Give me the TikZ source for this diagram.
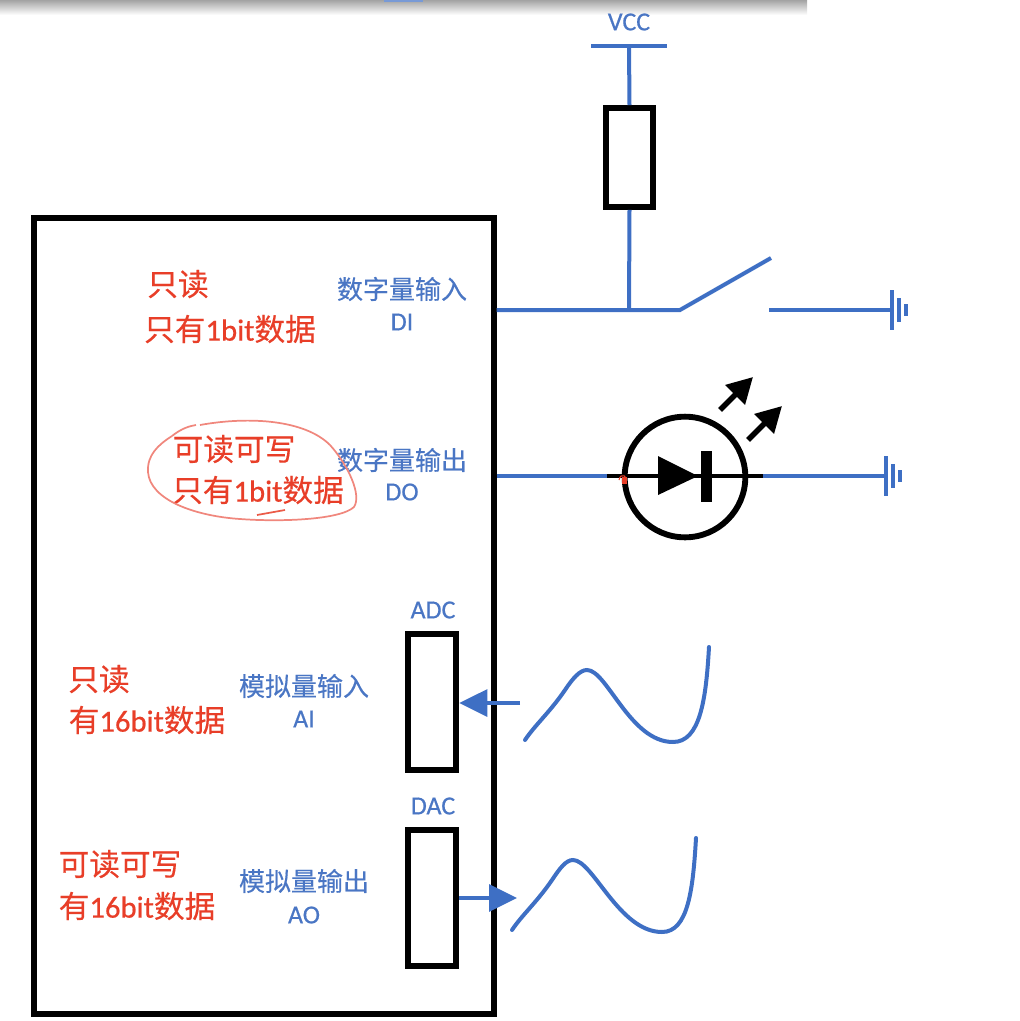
\documentclass[tikz,border=0pt]{standalone}
\usepackage{fontspec}
\setmainfont{Carlito}[FakeBold=0.5]
\newfontfamily\cjk{Noto Sans CJK SC}[FakeBold=0.4]
\usetikzlibrary{arrows.meta}

\definecolor{mblu}{RGB}{62, 111, 196}
\definecolor{mtxt}{RGB}{74, 118, 196}
\definecolor{mred}{RGB}{232, 62, 40}
\definecolor{mpin}{RGB}{240, 135, 125}

\newcommand{\zh}[1]{{\cjk #1}}

\tikzset{
	wire/.style={mblu, line width=3pt},
	blk/.style={draw=black, line width=4.4pt, inner sep=0pt},
	lbl/.style={mtxt, font=\fontsize{19.5}{22}\selectfont, inner sep=0pt},
	note/.style={mred, font=\fontsize{23}{26}\selectfont, inner sep=0pt},
	gnd/.pic={
		\draw[mblu, line width=3pt] (0,-20) -- (0,20);
		\draw[mblu, line width=3pt] (7,-12) -- (7,12);
		\draw[mblu, line width=3.2pt] (14,-6) -- (14,6);
	}
}

\begin{document}
\begin{tikzpicture}[x=0.75pt, y=-0.75pt]
	\useasboundingbox (0,0) rectangle (1020,1021);

	% --- Window edge along the top ---
	\shade[top color=black!36, bottom color=white] (0,0) rectangle (807,15);
	\fill[mblu!70] (384,0) rectangle (423,2);

	% --- Module and parts ---
	\node[blk, minimum width=344.5pt, minimum height=596.5pt] (mcu) at (264,616) {};
	\node[blk, minimum width=35pt, minimum height=74pt] (res) at (629.5,157.5) {};
	\node[blk, minimum width=36.5pt, minimum height=101.5pt] (adc) at (432,702) {};
	\node[blk, minimum width=36.5pt, minimum height=101.5pt] (dac) at (432,898) {};
	\node[blk, circle, minimum size=90.5pt] (led) at (685,477) {};

	% --- Blue labels ---
	\node[lbl] (vcc) at (629,22) {VCC};
	\node[lbl] (dizh) at (402,289) {\zh{数字量输入}};
	\node[lbl] (di) at (402,322) {DI};
	\node[lbl] (dozh) at (402,460) {\zh{数字量输出}};
	\node[lbl] (do) at (402,492) {DO};
	\node[lbl] (aizh) at (304,686) {\zh{模拟量输入}};
	\node[lbl] (ai) at (304,719) {AI};
	\node[lbl] (aozh) at (304,881) {\zh{模拟量输出}};
	\node[lbl] (ao) at (304,915) {AO};
	\node[lbl] (adclbl) at (433,610) {ADC};
	\node[lbl] (daclbl) at (433,806) {DAC};

	% --- Red notes ---
	\node[note] (n1a) at (178,284) {\zh{只读}};
	\node[note] (n1b) at (230,329) {\zh{只有}1bit\zh{数据}};
	\node[note] (n2a) at (234,449) {\zh{可读可写}};
	\node[note] (n2b) at (258,490) {\zh{只有}1bit\zh{数据}};
	\node[note] (n3a) at (99,679) {\zh{只读}};
	\node[note] (n3b) at (147,720) {\zh{有}16bit\zh{数据}};
	\node[note] (n4a) at (120,864) {\zh{可读可写}};
	\node[note] (n4b) at (137,906) {\zh{有}16bit\zh{数据}};

	% hand drawn ring round the second note
	\draw[mpin, line width=1.3pt] (172,436) .. controls (182,428) and (190,426) .. (196,425);
	\draw[mpin, line width=1.3pt] (200,425) .. controls (250,416) and (305,420) .. (330,445)
		.. controls (348,465) and (362,495) .. (354,507)
		.. controls (340,520) and (280,522) .. (240,519)
		.. controls (195,516) and (150,500) .. (148,472)
		.. controls (147,455) and (158,445) .. (172,436);
	\draw[mred!85, line width=1.3pt] (257,515) -- (285,510);

	% --- Digital input ---
	\coordinate (vccl) at (591,46);
	\coordinate (vccr) at (667,46);
	\coordinate (vccm) at (629,46);
	\coordinate (join) at (629,310);
	\coordinate (swa) at (680,310);
	\coordinate (swb) at (771,258);
	\coordinate (swc) at (769,310);
	\coordinate (gnda) at (892,310);
	\draw[wire, line width=3.4pt] (vccl) -- (vccr);
	\draw[wire] (vccm) -- (res.north);
	\draw[wire] (res.south) -- (join);
	\draw[wire] (mcu.east |- swa) -- (swa) -- (swb);
	\draw[wire] (swc) -- (gnda);
	\pic at (gnda) {gnd};

	% --- Digital output ---
	\coordinate (ledl) at (607,476);
	\coordinate (ledr) at (763,476);
	\coordinate (gndb) at (886,476);
	\draw[wire] (mcu.east |- ledl) -- (ledl);
	\draw[wire] (ledr) -- (gndb);
	\pic at (gndb) {gnd};
	\draw[black, line width=3.4pt] (ledl) -- (ledr);
	\fill[black] (658,456) -- (698,476) -- (658,495) -- cycle;
	\fill[black] (701,451) rectangle (712,502);
	\draw[mred, line width=0.8pt] (619,480) arc (200:340:4 and 7);
	\fill[mred] (622,477) rectangle (627,484);

	% light rays
	\coordinate (raya) at (720,410);
	\coordinate (rayb) at (753,377);
	\coordinate (rayc) at (748,440);
	\coordinate (rayd) at (782,406);
	\draw[-{Triangle[length=19pt, width=20pt]}, line width=4pt] (raya) -- (rayb);
	\draw[-{Triangle[length=19pt, width=20pt]}, line width=4pt] (rayc) -- (rayd);

	% --- Analog input ---
	\coordinate (ain) at (520,703);
	\draw[wire, -{Triangle[length=21pt, width=20pt]}] (ain) -- (adc.east |- ain);
	\draw[wire, line cap=round] (525,740) .. controls (535,725) and (550,712) .. (565,690)
		.. controls (573,678) and (580,670) .. (587,670)
		.. controls (607,670) and (630,742) .. (673,742)
		.. controls (700,742) and (706,700) .. (709,647);

	% --- Analog output ---
	\coordinate (aout) at (517,898);
	\draw[wire, -{Triangle[length=21pt, width=20pt]}] (dac.east |- aout) -- (aout);
	\draw[wire, line cap=round] (512,930) .. controls (522,915) and (537,902) .. (552,880)
		.. controls (560,868) and (566,860) .. (573,860)
		.. controls (593,860) and (619,932) .. (662,932)
		.. controls (688,932) and (693,890) .. (696,838);
\end{tikzpicture}
\end{document}
